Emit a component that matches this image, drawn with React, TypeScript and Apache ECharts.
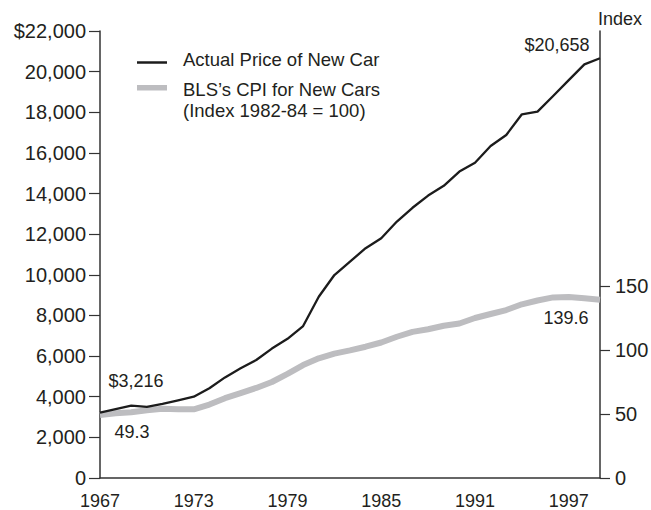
import React, { useEffect, useRef } from "react";
import * as echarts from "echarts";

const years: number[] = [
  1967, 1968, 1969, 1970, 1971, 1972, 1973, 1974, 1975, 1976, 1977, 1978, 1979,
  1980, 1981, 1982, 1983, 1984, 1985, 1986, 1987, 1988, 1989, 1990, 1991, 1992,
  1993, 1994, 1995, 1996, 1997, 1998, 1999,
];

const carPrice: number[] = [
  3216, 3390, 3560, 3500, 3650, 3820, 4000, 4420, 4950, 5400, 5810, 6370, 6850,
  7480, 8920, 9990, 10650, 11310, 11800, 12620, 13300, 13900, 14380, 15080,
  15520, 16340, 16880, 17900, 18030, 18800, 19580, 20360, 20658,
];

const cpiNewCars: number[] = [
  49.3, 50.7, 51.5, 53.1, 54.2, 53.8, 53.8, 57.5, 62.5, 66.5, 70.5, 75.2, 81.5,
  88.4, 93.7, 97.4, 99.9, 102.8, 106.1, 110.6, 114.4, 116.5, 119.2, 121.0,
  125.3, 128.4, 131.5, 136.0, 139.0, 141.4, 141.7, 140.7, 139.6,
];

const xTickLabels: number[] = [1967, 1973, 1979, 1985, 1991, 1997];
const rightTickValues: number[] = [0, 50, 100, 150];

const FONT = "'Liberation Sans', Arial, Helvetica, sans-serif";
const TXT = "#231f20";
const AXIS = "#333333";
const CLEAR = "rgba(0,0,0,0)";

export default function App() {
  const ref = useRef<HTMLDivElement>(null);

  useEffect(() => {
    document.body.style.margin = "0";
    if (!ref.current) return;
    const chart = echarts.init(ref.current, undefined, { renderer: "svg" });

    const n = years.length;
    const lbl = (text: string, position: string, offset: number[]) => ({
      show: true,
      formatter: text,
      position,
      offset,
      fontSize: 18,
      color: TXT,
      fontFamily: FONT,
    });

    const priceData = years.map((y, i) => {
      const item: any = { value: [y, carPrice[i]] };
      if (i === 0) item.label = lbl("$3,216", "top", [36, -17]);
      if (i === n - 1) item.label = lbl("$20,658", "top", [-43, 1]);
      return item;
    });

    const cpiData = years.map((y, i) => {
      const item: any = { value: [y, cpiNewCars[i]] };
      if (i === 0) item.label = lbl("49.3", "bottom", [32, 2]);
      if (i === n - 1) item.label = lbl("139.6", "bottom", [-34, 4]);
      return item;
    });

    chart.setOption({
      animation: false,
      backgroundColor: "#ffffff",
      textStyle: { fontFamily: FONT, color: TXT },
      grid: {
        left: 100,
        right: 51,
        top: 31,
        bottom: 32,
        containLabel: false,
        outerBoundsMode: "none",
      },
      xAxis: {
        type: "value",
        min: 1967,
        max: 1999,
        interval: 6,
        axisLine: { show: true, onZero: false, lineStyle: { color: AXIS, width: 1.5 } },
        axisTick: { show: false },
        splitLine: { show: false },
        axisLabel: {
          customValues: xTickLabels,
          fontSize: 18,
          color: TXT,
          fontFamily: FONT,
          margin: 14,
          formatter: (v: number) => String(v),
        },
      },
      yAxis: [
        {
          type: "value",
          min: 0,
          max: 22000,
          interval: 2000,
          position: "left",
          axisLine: { show: true, onZero: false, lineStyle: { color: AXIS, width: 1.5 } },
          axisTick: { show: true, inside: false, length: 11, lineStyle: { color: AXIS, width: 1.2 } },
          splitLine: { show: false },
          axisLabel: {
            fontSize: 20,
            color: TXT,
            fontFamily: FONT,
            margin: 14,
            formatter: (v: number) =>
              v === 22000 ? "$22,000" : v.toLocaleString("en-US"),
          },
        },
        {
          type: "value",
          min: 0,
          max: 350,
          interval: 50,
          position: "right",
          axisLine: { show: true, onZero: false, lineStyle: { color: AXIS, width: 1.5 } },
          axisTick: {
            show: true,
            inside: false,
            length: 10,
            customValues: rightTickValues,
            lineStyle: { color: AXIS, width: 1.2 },
          },
          splitLine: { show: false },
          axisLabel: {
            customValues: rightTickValues,
            fontSize: 20,
            color: TXT,
            fontFamily: FONT,
            margin: 15,
          },
        },
      ],
      series: [
        {
          name: "BLS's CPI for New Cars",
          type: "line",
          yAxisIndex: 1,
          data: cpiData,
          symbol: "circle",
          symbolSize: 1,
          showSymbol: true,
          lineStyle: { color: "#bdbdc0", width: 6, join: "round", cap: "butt" },
          itemStyle: { color: CLEAR, borderWidth: 0 },
          z: 2,
        },
        {
          name: "Actual Price of New Car",
          type: "line",
          yAxisIndex: 0,
          data: priceData,
          symbol: "circle",
          symbolSize: 1,
          showSymbol: true,
          lineStyle: { color: "#1c1c1c", width: 2.3, join: "round" },
          itemStyle: { color: CLEAR, borderWidth: 0 },
          z: 3,
        },
      ],
      graphic: [
        {
          type: "text",
          left: 598,
          top: 10,
          style: { text: "Index", fontSize: 18, fill: TXT, fontFamily: FONT },
        },
        {
          type: "line",
          shape: { x1: 137, y1: 62.5, x2: 167, y2: 62.5 },
          style: { stroke: "#1c1c1c", lineWidth: 2.5 },
        },
        {
          type: "text",
          x: 183,
          y: 59,
          style: {
            text: "Actual Price of New Car",
            fontSize: 18.5,
            fill: TXT,
            fontFamily: FONT,
            verticalAlign: "middle",
          },
        },
        {
          type: "rect",
          shape: { x: 137, y: 85, width: 30, height: 5.5 },
          style: { fill: "#bdbdc0" },
        },
        {
          type: "text",
          x: 183,
          y: 79,
          style: {
            text: "BLS\u2019s CPI for New Cars\n(Index 1982-84 = 100)",
            fontSize: 18.5,
            lineHeight: 21,
            fill: TXT,
            fontFamily: FONT,
            verticalAlign: "top",
          },
        },
      ],
    });

    return () => {
      chart.dispose();
    };
  }, []);

  return <div ref={ref} style={{ width: 651, height: 510 }} />;
}
